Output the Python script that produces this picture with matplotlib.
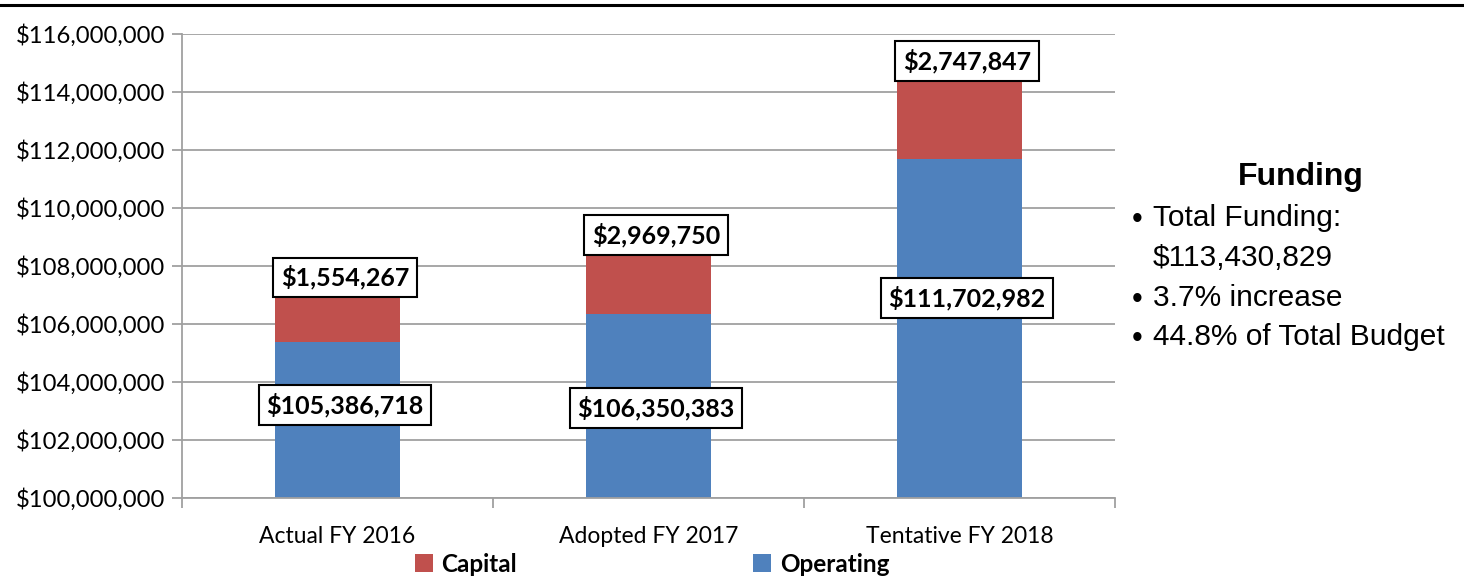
import matplotlib
matplotlib.use("Agg")
import matplotlib.pyplot as plt
from matplotlib.lines import Line2D
from matplotlib.patches import Patch
import numpy as np

categories = ["Actual FY 2016", "Adopted FY 2017", "Tentative FY 2018"]
operating = [105386718, 106350383, 111702982]
capital = [1554267, 2969750, 2747847]
series_names = ["Capital", "Operating"]
y_ticks = [100e6, 102e6, 104e6, 106e6, 108e6, 110e6, 112e6, 114e6, 116e6]
side_title = "Funding"
side_lines = ["Total Funding:", "$113,430,829", "3.7% increase", "44.8% of Total Budget"]
side_has_bullet = [True, False, True, True]

# label placement (positions only)
cap_label_y = [107.6e6, 109.07e6, 115.07e6]
op_label_y = [103.2e6, 103.1e6, 106.9e6]

BLUE = "#4F81BD"
RED = "#C0504D"
GRID = "#A0A0A0"
FONT = "Lato"

plt.rcParams['font.family'] = [FONT, 'DejaVu Sans']

fig = plt.figure(figsize=(14.64, 5.84), dpi=100)
ax = fig.add_axes([182/1464, 1-498/584, (1115-182)/1464, (498-34)/584])

x = np.arange(len(categories))
w = 0.40
base = 100e6
ax.bar(x, np.array(operating) - base, bottom=base, width=w, color=BLUE, zorder=2)
ax.bar(x, capital, bottom=operating, width=w, color=RED, zorder=2)

ax.set_xlim(-0.5, len(categories) - 0.5)
ax.set_ylim(100e6, 116e6)
ax.set_yticks(y_ticks)
ax.set_yticklabels(["${:,.0f}".format(v) for v in y_ticks])
ax.yaxis.grid(True, color=GRID, linewidth=1.3, zorder=0)
ax.set_axisbelow(True)

ax.set_xticks(np.arange(len(categories) + 1) - 0.5)
ax.set_xticklabels([])
ax.set_xticks(x, minor=True)
ax.set_xticklabels(categories, minor=True)
ax.tick_params(axis='x', which='major', length=7, color=GRID, width=1.3, direction='out')
ax.tick_params(axis='x', which='minor', length=0, pad=20, labelsize=16.5)
ax.tick_params(axis='y', length=7, color=GRID, width=1.3, labelsize=17.2, pad=5)

for s in ["top", "right"]:
    ax.spines[s].set_visible(False)
for s in ["left", "bottom"]:
    ax.spines[s].set_color(GRID)
    ax.spines[s].set_linewidth(1.3)

box = dict(boxstyle="square,pad=0.3", facecolor="white", edgecolor="black", linewidth=1.5)
dx = 0.024
for i in range(len(categories)):
    ax.text(x[i] + dx, cap_label_y[i], "${:,.0f}".format(capital[i]), ha="center", va="center",
            fontsize=18, fontweight="bold", bbox=box, zorder=5)
    ax.text(x[i] + dx, op_label_y[i], "${:,.0f}".format(operating[i]), ha="center", va="center",
            fontsize=18, fontweight="bold", bbox=box, zorder=5)

handles = [Patch(facecolor=RED, label=series_names[0]), Patch(facecolor=BLUE, label=series_names[1])]
leg = fig.legend(handles=handles, loc="center", bbox_to_anchor=(652/1464, 1-564/584), ncol=2,
                 frameon=False, columnspacing=9.7, handlelength=0.75, handleheight=0.75, handletextpad=0.35,
                 prop={"family": FONT, "weight": "bold", "size": 17.5})

# top rule line
fig.add_artist(Line2D([0, 1], [1-5/584, 1-5/584], color="black", linewidth=2.2, transform=fig.transFigure))

# side text
fig.text(1301/1464, 1-177/584, side_title, ha="center", va="center", fontsize=23, fontweight="bold",
         family="Liberation Sans")
bullet_x = 1137/1464
text_x = 1153/1464
ys = [218, 258, 298, 337]
for yy, t, b in zip(ys, side_lines, side_has_bullet):
    if b:
        fig.text(bullet_x, 1-(yy+2)/584, "\u2022", ha="center", va="center", fontsize=22, family="Liberation Sans")
    fig.text(text_x, 1-yy/584, t, ha="left", va="center", fontsize=21.5, family="Liberation Sans")

fig.savefig("out.png", dpi=100)
